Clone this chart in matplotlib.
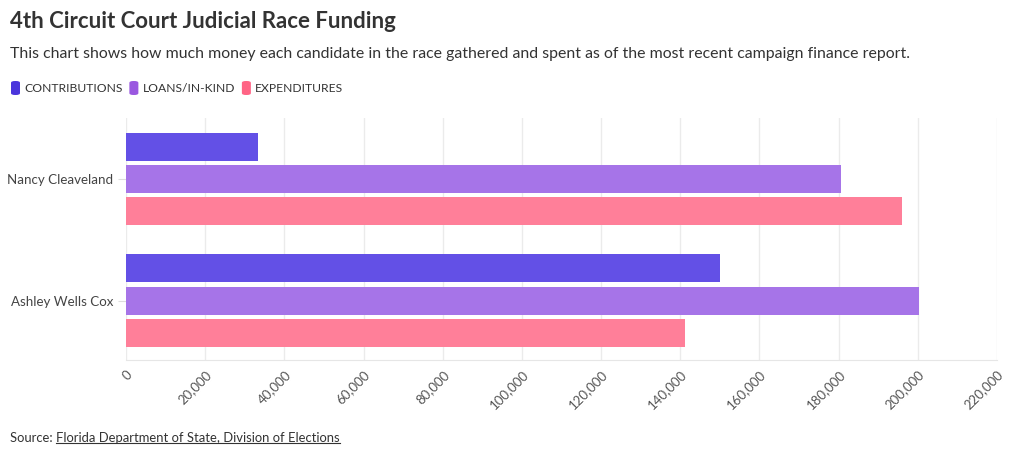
import matplotlib.pyplot as plt
from matplotlib.patches import FancyBboxPatch
import numpy as np

# data
candidates = ['Nancy Cleaveland', 'Ashley Wells Cox']
series = ['CONTRIBUTIONS', 'LOANS/IN-KIND', 'EXPENDITURES']
contributions = [33300, 150000]
loans_in_kind = [180500, 200300]
expenditures = [196000, 141200]
x_ticks = list(range(0, 220001, 20000))

bar_colors = ['#6350e6', '#a674e8', '#ff7f99']
swatch_colors = ['#4a35dc', '#9a58e0', '#ff6485']

plt.rcParams['font.family'] = ['Lato', 'DejaVu Sans']

W, H = 1020, 458
fig = plt.figure(figsize=(W / 100, H / 100), dpi=100)

# axes box in pixels: left 126, right 997, top 118, bottom 360
ax = fig.add_axes([126 / W, 1 - 360 / H, (997 - 126) / W, (360 - 118) / H])

slot = 32.0  # px per bar slot
group_gap = 121.0 / slot
y_centers = np.arange(len(candidates)) * group_gap
bar_h = 28.0 / slot
values = [contributions, loans_in_kind, expenditures]
for i, (vals, col) in enumerate(zip(values, bar_colors)):
    ax.barh(y_centers + (i - 1), vals, height=bar_h, color=col, zorder=3)

ax.set_ylim((121 + 59.5) / slot, -61.5 / slot)
ax.set_xlim(0, 220000)
ax.set_xticks(x_ticks)
ax.set_xticklabels([f'{t:,}' for t in x_ticks], rotation=45, ha='right', va='top',
                   rotation_mode='anchor', fontsize=9.5, color='#555555')
ax.set_yticks(y_centers)
ax.set_yticklabels(candidates, fontsize=9.6, color='#444444')
ax.tick_params(axis='y', length=6, color='#dddddd', pad=3)
ax.tick_params(axis='x', length=0, pad=6)
ax.grid(axis='x', color='#ebebeb', linewidth=1, zorder=0)
for s in ['top', 'right', 'left']:
    ax.spines[s].set_visible(False)
ax.spines['bottom'].set_color('#e6e6e6')

# header
fig.text(10 / W, 1 - 22 / H, '4th Circuit Court Judicial Race Funding', fontsize=16,
         fontweight='bold', color='#333333', va='center', ha='left')
fig.text(10 / W, 1 - 54 / H,
         'This chart shows how much money each candidate in the race gathered and spent as of the most recent campaign finance report.',
         fontsize=11.4, color='#333333', va='center', ha='left')

# legend
fig.canvas.draw()
renderer = fig.canvas.get_renderer()
x = 11
for name, col in zip(series, swatch_colors):
    fig.patches.append(FancyBboxPatch((x / W, 1 - 95 / H), 9 / W, 14 / H,
                                      boxstyle='round,pad=0,rounding_size=0.004',
                                      transform=fig.transFigure, facecolor=col,
                                      edgecolor='none'))
    t = fig.text((x + 13) / W, 1 - 88 / H, name, fontsize=8.7, color='#333333',
                 va='center', ha='left')
    bb = t.get_window_extent(renderer)
    x = bb.x1 + 7

# source line
src = fig.text(10 / W, 1 - 438 / H, 'Source: ', fontsize=9.4, color='#333333',
               va='center', ha='left')
bb = src.get_window_extent(renderer)
link = fig.text(bb.x1 / W, 1 - 438 / H, 'Florida Department of State, Division of Elections',
                fontsize=9.4, color='#333333', va='center', ha='left')
lb = link.get_window_extent(renderer)
fig.add_artist(plt.Line2D([lb.x0 / W, lb.x1 / W], [(lb.y0 + 1) / H, (lb.y0 + 1) / H],
                          color='#333333', linewidth=0.8, transform=fig.transFigure))

fig.savefig('out.png', dpi=100)
